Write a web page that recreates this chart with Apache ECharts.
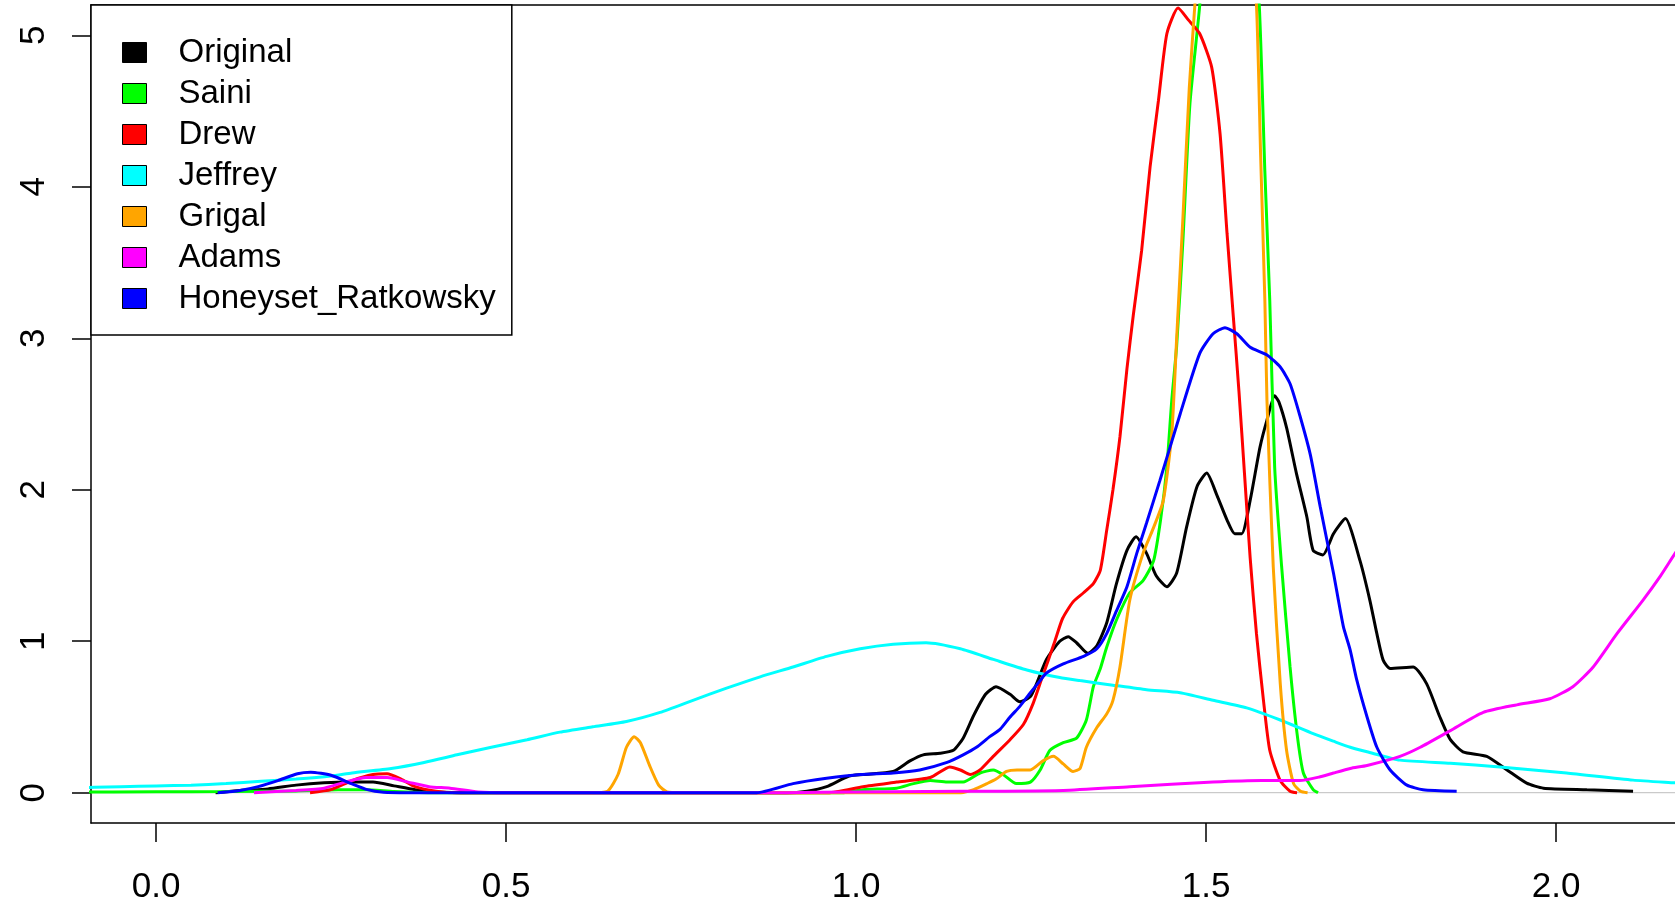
<!DOCTYPE html>
<html>
<head>
<meta charset="utf-8">
<script src="https://cdn.jsdelivr.net/npm/echarts@6/dist/echarts.min.js"></script>
<style>
  html, body { margin: 0; padding: 0; background: #fff; }
  #chart { width: 1675px; height: 907px; }
</style>
</head>
<body>
<div id="chart"></div>
<script>
// ---------- data ----------
const seriesNames = ['Original', 'Saini', 'Drew', 'Jeffrey', 'Grigal', 'Adams', 'Honeyset_Ratkowsky'];
const seriesColors = ['#000000', '#00ff00', '#ff0000', '#00ffff', '#ffa500', '#ff00ff', '#0000ff'];
const xTickValues = [0, 0.5, 1, 1.5, 2];
const yTickValues = [0, 1, 2, 3, 4, 5];
const xRange = [-0.0929, 2.1699];
const yRange = [-0.2, 5.2];

const original = [
  [0.085,0],[0.12,0.015],[0.16,0.025],[0.2,0.05],[0.24,0.065],[0.28,0.07],[0.31,0.07],[0.34,0.045],
  [0.37,0.02],[0.40,0.005],[0.45,0],[0.90,0],[0.93,0.01],[0.958,0.04],[0.99,0.11],[1.01,0.12],
  [1.053,0.14],[1.077,0.21],[1.096,0.25],[1.12,0.26],[1.139,0.28],[1.153,0.36],[1.168,0.51],
  [1.185,0.65],[1.20,0.70],[1.22,0.65],[1.234,0.60],[1.25,0.64],[1.272,0.88],[1.291,1.00],
  [1.303,1.03],[1.315,0.99],[1.331,0.92],[1.344,0.97],[1.358,1.12],[1.372,1.38],[1.387,1.60],
  [1.40,1.69],[1.415,1.58],[1.429,1.43],[1.444,1.36],[1.458,1.45],[1.472,1.75],[1.487,2.02],
  [1.501,2.11],[1.515,1.97],[1.53,1.80],[1.541,1.71],[1.551,1.71],[1.563,1.93],[1.577,2.28],
  [1.587,2.46],[1.598,2.62],[1.604,2.58],[1.615,2.41],[1.629,2.11],[1.644,1.82],[1.653,1.60],
  [1.667,1.57],[1.682,1.71],[1.699,1.81],[1.72,1.53],[1.734,1.27],[1.744,1.05],[1.753,0.875],
  [1.763,0.82],[1.796,0.83],[1.815,0.72],[1.834,0.50],[1.849,0.35],[1.867,0.27],[1.901,0.24],
  [1.93,0.15],[1.958,0.063],[1.982,0.03],[2.044,0.02],[2.11,0.01]
];
const saini = [
  [-0.13,0.004],[0.0,0.006],[0.1,0.008],[0.2,0.012],[0.26,0.02],[0.3,0.02],[0.34,0.008],[0.40,0],
  [0.98,0],[1.01,0.02],[1.058,0.03],[1.082,0.06],[1.106,0.08],[1.13,0.07],[1.153,0.07],[1.177,0.13],
  [1.196,0.15],[1.21,0.12],[1.229,0.06],[1.249,0.07],[1.263,0.15],[1.277,0.28],[1.296,0.33],
  [1.315,0.36],[1.329,0.48],[1.339,0.70],[1.349,0.82],[1.358,0.96],[1.372,1.14],[1.391,1.32],
  [1.41,1.40],[1.425,1.53],[1.435,1.8],[1.444,2.15],[1.451,2.59],[1.458,2.95],[1.467,3.65],
  [1.477,4.55],[1.491,5.2],[1.505,6.1],[1.52,6.7],[1.535,6.8],[1.55,6.5],[1.565,5.8],[1.576,5.2],
  [1.584,4.1],[1.591,3.25],[1.598,2.15],[1.608,1.49],[1.62,0.83],[1.63,0.39],[1.639,0.13],
  [1.653,0.02],[1.66,0]
];
const drew = [
  [0.22,0],[0.25,0.02],[0.28,0.08],[0.31,0.12],[0.33,0.125],[0.35,0.09],[0.37,0.04],[0.40,0.01],
  [0.43,0],[0.96,0],[1.01,0.04],[1.058,0.07],[1.106,0.10],[1.134,0.17],[1.149,0.15],[1.163,0.12],
  [1.177,0.15],[1.196,0.24],[1.22,0.35],[1.239,0.45],[1.253,0.59],[1.265,0.75],[1.275,0.88],
  [1.284,1.0],[1.295,1.15],[1.31,1.26],[1.325,1.32],[1.339,1.38],[1.349,1.47],[1.358,1.73],
  [1.367,2.0],[1.377,2.35],[1.387,2.8],[1.396,3.15],[1.408,3.58],[1.42,4.13],[1.432,4.57],
  [1.444,5.01],[1.46,5.18],[1.475,5.1],[1.491,5.01],[1.508,4.79],[1.52,4.35],[1.53,3.69],
  [1.539,3.14],[1.547,2.65],[1.555,2.1],[1.563,1.55],[1.572,1.05],[1.582,0.61],[1.591,0.28],
  [1.606,0.08],[1.62,0.01],[1.63,0]
];
const jeffrey = [
  [-0.13,0.03],[-0.05,0.04],[0.0,0.045],[0.05,0.05],[0.1,0.06],[0.15,0.075],[0.2,0.09],[0.25,0.11],
  [0.28,0.13],[0.336,0.16],[0.383,0.20],[0.43,0.25],[0.479,0.30],[0.53,0.35],[0.577,0.40],
  [0.624,0.435],[0.672,0.47],[0.72,0.53],[0.767,0.61],[0.815,0.69],[0.863,0.765],[0.91,0.83],
  [0.958,0.90],[1.006,0.95],[1.053,0.98],[1.10,0.99],[1.149,0.95],[1.196,0.88],[1.244,0.81],
  [1.291,0.76],[1.32,0.74],[1.367,0.71],[1.415,0.68],[1.463,0.66],[1.51,0.61],[1.558,0.56],
  [1.606,0.48],[1.653,0.39],[1.682,0.34],[1.706,0.30],[1.73,0.27],[1.777,0.215],[1.849,0.195],
  [1.92,0.17],[2.015,0.13],[2.11,0.083],[2.17,0.065],[2.22,0.05]
];
const grigal = [
  [0.62,0],[0.645,0.01],[0.66,0.12],[0.672,0.30],[0.683,0.37],[0.692,0.33],[0.705,0.18],[0.718,0.05],
  [0.73,0.005],[0.75,0],[1.15,0],[1.168,0.02],[1.187,0.06],[1.20,0.09],[1.215,0.14],[1.23,0.15],
  [1.249,0.15],[1.267,0.21],[1.282,0.24],[1.296,0.19],[1.31,0.14],[1.32,0.16],[1.329,0.30],
  [1.344,0.43],[1.358,0.52],[1.367,0.61],[1.377,0.83],[1.391,1.27],[1.41,1.58],[1.425,1.75],
  [1.439,1.93],[1.451,2.37],[1.458,3.0],[1.467,3.8],[1.476,4.65],[1.484,5.2],[1.50,6.2],
  [1.515,6.8],[1.53,6.9],[1.545,6.6],[1.56,5.9],[1.572,5.2],[1.578,4.2],[1.584,3.25],[1.587,2.59],
  [1.596,1.49],[1.606,0.72],[1.615,0.28],[1.625,0.06],[1.635,0.01],[1.645,0]
];
const adams = [
  [0.14,0],[0.2,0.015],[0.24,0.03],[0.27,0.07],[0.30,0.10],[0.33,0.10],[0.36,0.07],[0.39,0.04],
  [0.42,0.03],[0.46,0.005],[0.5,0],[0.9,0],[1.0,0.005],[1.1,0.008],[1.2,0.01],[1.296,0.015],
  [1.391,0.04],[1.51,0.07],[1.58,0.08],[1.634,0.08],[1.663,0.105],[1.682,0.13],[1.706,0.16],
  [1.73,0.18],[1.777,0.24],[1.806,0.30],[1.849,0.41],[1.896,0.53],[1.944,0.58],[1.991,0.62],
  [2.024,0.70],[2.053,0.83],[2.087,1.05],[2.124,1.27],[2.149,1.43],[2.17,1.58],[2.21,1.85]
];
const honeyset = [
  [0.088,0],[0.12,0.015],[0.146,0.04],[0.174,0.08],[0.202,0.125],[0.221,0.135],[0.25,0.115],
  [0.279,0.06],[0.302,0.02],[0.325,0.003],[0.36,0],[0.858,0],[0.91,0.06],[0.958,0.095],
  [1.006,0.12],[1.053,0.13],[1.091,0.15],[1.13,0.20],[1.153,0.25],[1.172,0.30],[1.191,0.37],
  [1.206,0.42],[1.22,0.50],[1.234,0.57],[1.249,0.66],[1.263,0.74],[1.272,0.79],[1.296,0.85],
  [1.325,0.90],[1.344,0.95],[1.358,1.05],[1.372,1.20],[1.387,1.36],[1.401,1.58],[1.415,1.78],
  [1.434,2.06],[1.463,2.50],[1.491,2.90],[1.51,3.03],[1.527,3.07],[1.544,3.03],[1.563,2.94],
  [1.587,2.89],[1.606,2.81],[1.62,2.70],[1.634,2.49],[1.649,2.23],[1.663,1.89],[1.682,1.45],
  [1.696,1.10],[1.706,0.94],[1.715,0.75],[1.73,0.50],[1.744,0.30],[1.763,0.15],[1.787,0.05],
  [1.81,0.02],[1.858,0.01]
];
const zeroLine = [[xRange[0], 0], [xRange[1], 0]];

// ---------- chart ----------
const seriesData = [original, saini, drew, jeffrey, grigal, adams, honeyset];
const FONT = "'Liberation Sans', Arial, Helvetica, sans-serif";

const chart = echarts.init(document.getElementById('chart'), null, { renderer: 'canvas' });

const series = [{
  name: '_zero',
  type: 'line',
  data: zeroLine,
  symbol: 'none',
  silent: true,
  lineStyle: { color: '#bebebe', width: 1 },
  z: 1
}].concat(seriesNames.map((name, i) => ({
  name: name,
  type: 'line',
  data: seriesData[i],
  symbol: 'none',
  smooth: 0.2,
  clip: true,
  color: seriesColors[i],
  lineStyle: { color: seriesColors[i], width: 3 },
  z: 2
})));

const frameLine = { show: true, onZero: false, lineStyle: { color: '#000', width: 1.5 } };

chart.setOption({
  animation: false,
  backgroundColor: '#ffffff',
  grid: { left: 91, top: 5, right: 0, bottom: 84, show: false },
  xAxis: [{
    type: 'value',
    position: 'bottom',
    min: xRange[0], max: xRange[1],
    splitLine: { show: false },
    axisLine: frameLine,
    axisTick: { show: true, length: 19, inside: false, customValues: xTickValues,
                lineStyle: { color: '#000', width: 1.5 } },
    axisLabel: { show: true, customValues: xTickValues, margin: 47,
                 fontSize: 35, fontFamily: FONT, color: '#000',
                 formatter: v => Number(v).toFixed(1) }
  }, {
    type: 'value',
    position: 'top',
    min: xRange[0], max: xRange[1],
    splitLine: { show: false },
    axisLine: frameLine,
    axisTick: { show: false },
    axisLabel: { show: false }
  }],
  yAxis: {
    type: 'value',
    position: 'left',
    min: yRange[0], max: yRange[1],
    splitLine: { show: false },
    axisLine: frameLine,
    axisTick: { show: true, length: 19, inside: false, customValues: yTickValues,
                lineStyle: { color: '#000', width: 1.5 } },
    axisLabel: { show: true, customValues: yTickValues, margin: 39, rotate: 90,
                 fontSize: 35, fontFamily: FONT, color: '#000',
                 formatter: v => String(Math.round(v)) }
  },
  legend: {
    data: seriesNames,
    orient: 'vertical',
    left: 91, top: 5,
    padding: [31, 16, 20, 31],
    itemGap: 8,
    itemWidth: 24, itemHeight: 20,
    icon: 'rect',
    selectedMode: false,
    backgroundColor: '#fff',
    borderColor: '#000', borderWidth: 1.5, borderRadius: 0,
    itemStyle: { borderColor: '#000', borderWidth: 1 },
    textStyle: { fontSize: 33, fontFamily: FONT, color: '#000', padding: [0, 0, 0, 27] }
  },
  series: series
});
</script>
</body>
</html>
